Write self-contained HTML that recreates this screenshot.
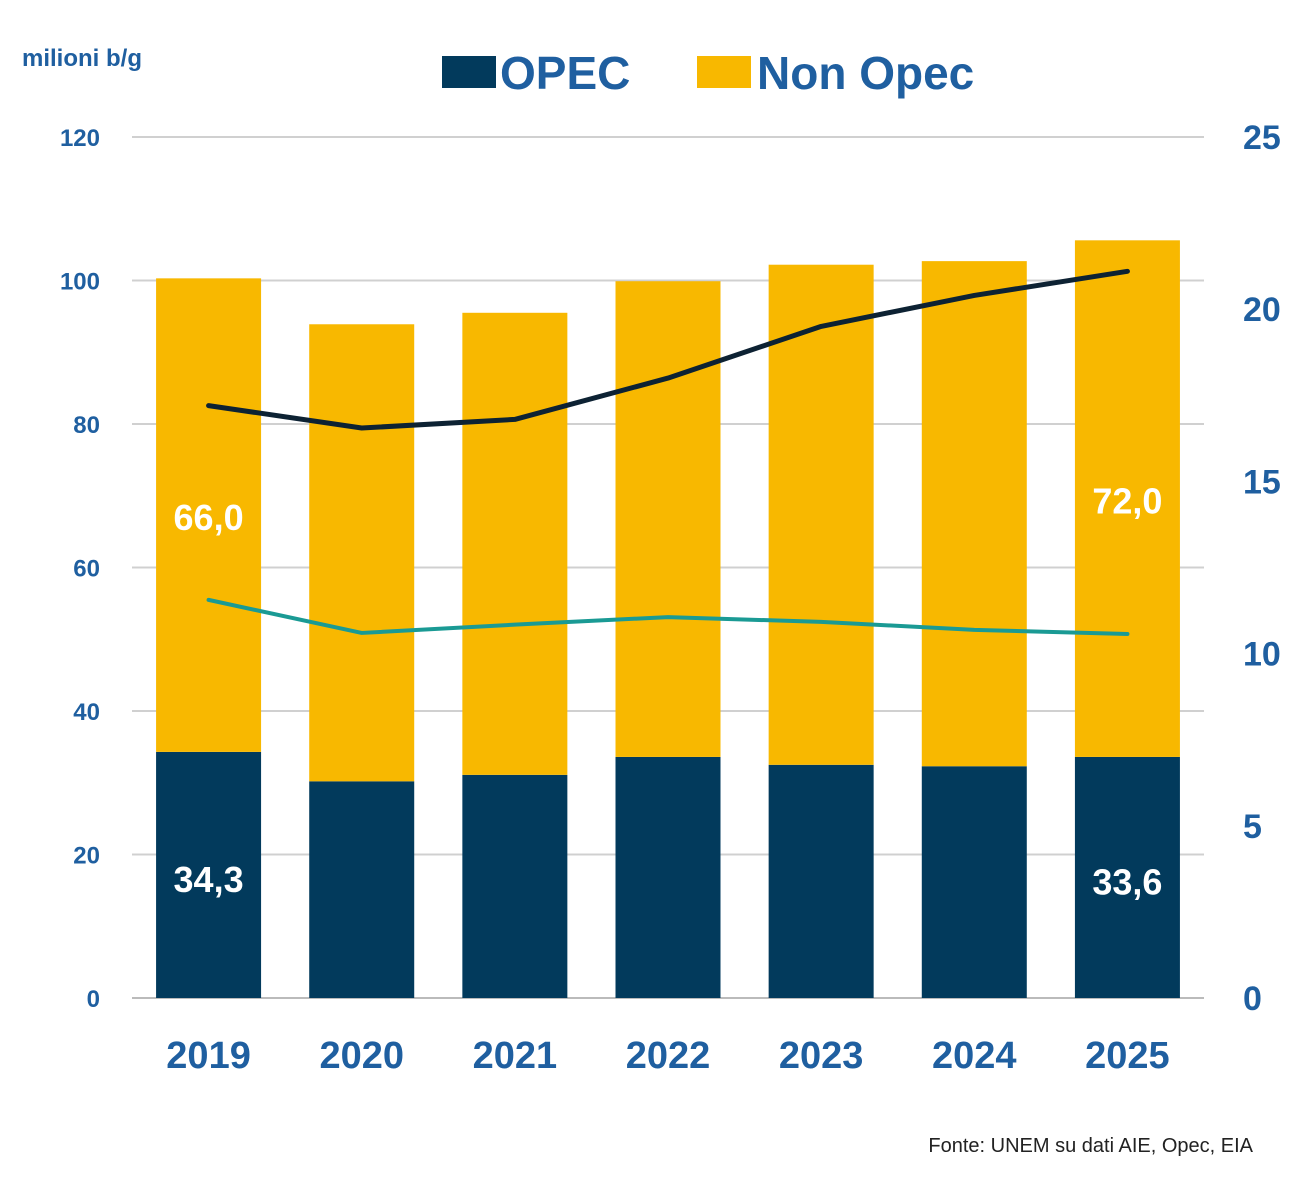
<!DOCTYPE html>
<html><head><meta charset="utf-8"><style>
body{margin:0;background:#fff;}
svg{display:block;font-family:"Liberation Sans",sans-serif;}
</style></head><body>
<svg id="chart" width="1301" height="1180">
<text x="22" y="66" font-size="24" font-weight="bold" fill="#1f5fa0">milioni b/g</text>
<rect x="442" y="56" width="54" height="32" fill="#023a5c"/>
<text x="500" y="89" font-size="46" font-weight="bold" fill="#1f5fa0">OPEC</text>
<rect x="697" y="56" width="54" height="32" fill="#f8b800"/>
<text x="757" y="89" font-size="46" font-weight="bold" fill="#1f5fa0">Non Opec</text>
<g id="grid"></g><g id="bars"></g><g id="lines"></g><g id="labels"></g>
<text x="1253" y="1152" text-anchor="end" font-size="20" fill="#222">Fonte: UNEM su dati AIE, Opec, EIA</text>
</svg>
<script>
const categories=["2019","2020","2021","2022","2023","2024","2025"];
const opec=[34.3,30.2,31.1,33.6,32.5,32.3,33.6];
const nonOpec=[66.0,63.7,64.4,66.3,69.7,70.4,72.0];
const darkLine=[17.2,16.55,16.8,18.0,19.5,20.4,21.1];
const tealLine=[11.56,10.6,10.84,11.06,10.92,10.69,10.57];
const leftTicks=[0,20,40,60,80,100,120];
const rightTicks=[0,5,10,15,20,25];
const valueLabels={0:["34,3","66,0"],6:["33,6","72,0"]};
const NS="http://www.w3.org/2000/svg";
const x0=132,x1=1204,yB=998,yT=137;
const yL=v=>yB-(v/120)*(yB-yT);
const yR=v=>yB-(v/25)*(yB-yT);
const step=(x1-x0)/categories.length;
const xc=i=>x0+step*(i+0.5);
const bw=105;
function mk(t,a,p){const e=document.createElementNS(NS,t);for(const k in a)e.setAttribute(k,a[k]);p.appendChild(e);return e;}
const g=document.getElementById('grid'),b=document.getElementById('bars'),l=document.getElementById('lines'),lb=document.getElementById('labels');
leftTicks.forEach(v=>{
 const ln=mk('line',{x1:x0,x2:x1,y1:yL(v),y2:yL(v),stroke:v===0?'#bbb':'#d0d0d0','stroke-width':2},g);
 
 
 const t=mk('text',{x:100,y:yL(v)+9,'text-anchor':'end','font-size':24,'font-weight':'bold',fill:'#1f5fa0'},g);
 t.textContent=v;
 
 
});
rightTicks.forEach(v=>{
 const t=mk('text',{x:1243,y:yR(v)+12,'font-size':34,'font-weight':'bold',fill:'#1f5fa0'},g);
 t.textContent=v;
 
 
});
categories.forEach((c,i)=>{
 const r1=mk('rect',{x:xc(i)-bw/2,y:yL(opec[i]),width:bw,height:yB-yL(opec[i]),fill:'#023a5c'},b);
 
 
 const top=opec[i]+nonOpec[i];
 const r2=mk('rect',{x:xc(i)-bw/2,y:yL(top),width:bw,height:yL(opec[i])-yL(top),fill:'#f8b800'},b);
 
 
 const t=mk('text',{x:xc(i),y:1068,'text-anchor':'middle','font-size':38,'font-weight':'bold',fill:'#1f5fa0'},lb);
 t.textContent=c;
 
 
 if(valueLabels[i]){
  const a=mk('text',{x:xc(i),y:(yL(opec[i])+yB)/2+17,'text-anchor':'middle','font-size':36,'font-weight':'bold',fill:'#fff'},lb);
  a.textContent=valueLabels[i][0];
  
  
  const d=mk('text',{x:xc(i),y:(yL(opec[i])+yL(top))/2+15,'text-anchor':'middle','font-size':36,'font-weight':'bold',fill:'#fff'},lb);
  d.textContent=valueLabels[i][1];
  
  
 }
});
const p1=mk('polyline',{points:darkLine.map((v,i)=>xc(i)+','+yR(v)).join(' '),fill:'none',stroke:'#0d2233','stroke-width':5,'stroke-linejoin':'round','stroke-linecap':'round'},l);


const p2=mk('polyline',{points:tealLine.map((v,i)=>xc(i)+','+yR(v)).join(' '),fill:'none',stroke:'#1a9a94','stroke-width':4,'stroke-linejoin':'round','stroke-linecap':'round'},l);


</script>
</body></html>
